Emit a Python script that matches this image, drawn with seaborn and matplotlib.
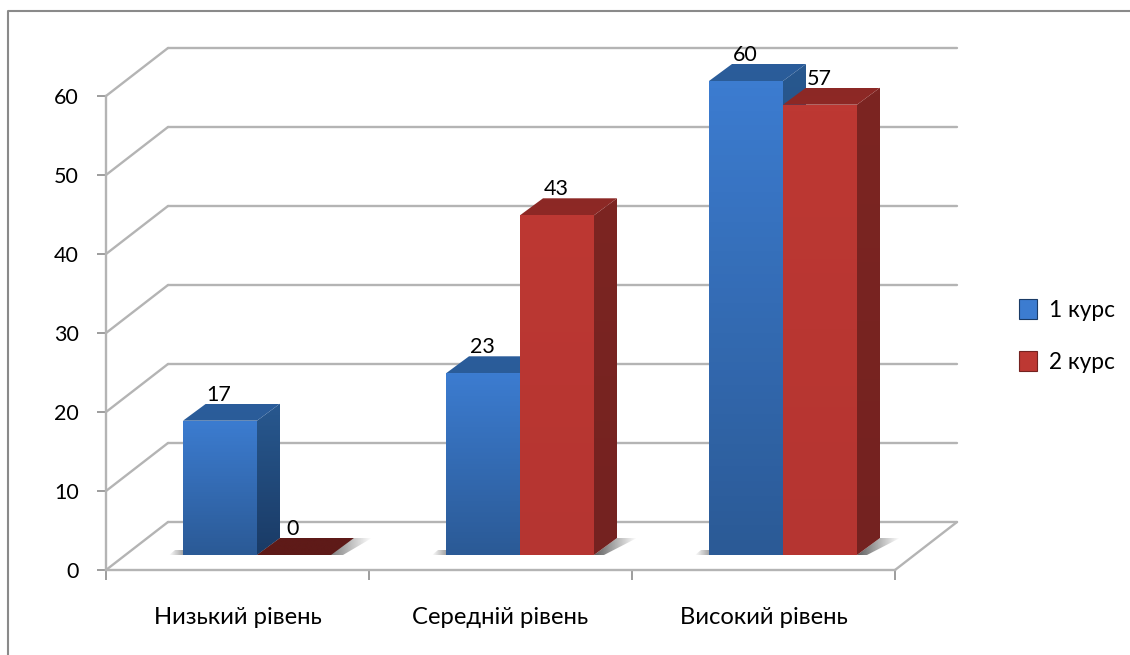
import numpy as np
import pandas as pd
import matplotlib
matplotlib.use("Agg")
import matplotlib.pyplot as plt
import seaborn as sns
from matplotlib.colors import to_rgb
from matplotlib.lines import Line2D
from matplotlib.patches import Patch, Polygon
from matplotlib.transforms import IdentityTransform, ScaledTranslation

levels = ["Низький рівень", "Середній рівень", "Високий рівень"]
course_names = ["1 курс", "2 курс"]
course1 = [17, 23, 60]
course2 = [0, 43, 57]
y_ticks = [0, 10, 20, 30, 40, 50, 60]

W, H = 1130, 655
GREY = "#b4b4b4"
FONT_SIZE = 15.5
FRONT = {"1 курс": ("#3c7cd0", "#2b5a96"), "2 курс": ("#bd3833", "#b53531")}
SIDE = {"1 курс": ("#28588f", "#1a3b66"), "2 курс": ("#7c2522", "#742220")}
TOP = {"1 курс": ("#2b5d9b", "#2a5c99"), "2 курс": ("#8c2825", "#8e2926")}
ZERO_TOP = "#5e1a18"

df = pd.DataFrame({
    "level": levels * 2,
    "course": [course_names[0]] * 3 + [course_names[1]] * 3,
    "value": course1 + course2,
})

sns.set_theme(style="white")
plt.rcParams["font.family"] = ["Lato", "Open Sans", "DejaVu Sans"]

fig = plt.figure(figsize=(W / 100, H / 100), dpi=100)
# axes = the front plane of the fake 3d box
ax = fig.add_axes([106 / W, (H - 570) / H, 789 / W, 474 / H])

palette = {c: FRONT[c][0] for c in course_names}
sns.barplot(data=df, x="level", y="value", hue="course", order=levels,
            hue_order=course_names, palette=palette, width=0.5627, gap=0,
            saturation=1, legend=False, ax=ax, zorder=5)
ax.set_xlim(-0.5, 2.5)
ax.set_ylim(0, 60)
ax.set_xlabel("")
ax.set_ylabel("")


def px(value):
    return value / 100


# bars stand a little behind the front plane
shift = ScaledTranslation(px(19.5), px(15), fig.dpi_scale_trans)
bar_tr = ax.transData + shift


def face(verts, c1, c2, z):
    # polygon in pixels, filled with a top to bottom gradient
    verts = np.array(verts)
    poly = Polygon(verts, closed=True, transform=IdentityTransform(), fc="none", ec="none")
    ax.add_patch(poly)
    grad = np.linspace(to_rgb(c1), to_rgb(c2), 64).reshape(64, 1, 3)
    im = ax.imshow(grad, aspect="auto", transform=IdentityTransform(), zorder=z,
                   extent=(verts[:, 0].min(), verts[:, 0].max(), verts[:, 1].min(), verts[:, 1].max()))
    im.set_clip_box(fig.bbox)
    im.set_clip_path(poly)


def shadow(verts, strength, z=2, reverse=False):
    # soft floor shadow, fades out sideways
    verts = np.array(verts)
    poly = Polygon(verts, closed=True, transform=IdentityTransform(), fc="none", ec="none")
    ax.add_patch(poly)
    rgba = np.zeros((1, 64, 4))
    rgba[..., :3] = 0.3
    rgba[..., 3] = np.linspace(strength, 0, 64)
    if reverse:
        rgba = rgba[:, ::-1]
    im = ax.imshow(rgba, aspect="auto", transform=IdentityTransform(), zorder=z,
                   extent=(verts[:, 0].min(), verts[:, 0].max(), verts[:, 1].min(), verts[:, 1].max()))
    im.set_clip_box(fig.bbox)
    im.set_clip_path(poly)


DX, DY = 23, 17
z = 6
for course, container in zip(course_names, ax.containers):
    for bar in container:
        x, w, h = bar.get_x(), bar.get_width(), bar.get_height()
        bar.set_transform(bar_tr)
        (x0, y0), (x1, y1) = bar_tr.transform([(x, 0), (x + w, h)])
        bar.set_visible(False)
        if h == 0:
            shadow([(x1 - 6, y0), (x1 + DX, y0 + DY), (x1 + DX + 18, y0 + DY), (x1 + 12, y0)], 0.8)
            face([(x0, y0), (x1, y0), (x1 + DX, y0 + DY), (x0 + DX, y0 + DY)], ZERO_TOP, ZERO_TOP, z)
        else:
            shadow([(x1, y0), (x1 + DX, y0 + DY), (x1 + DX + 20, y0 + DY), (x1 + 10, y0)], 0.9)
            if course == course_names[0]:
                shadow([(x0 - 14, y0), (x0, y0), (x0, y0 + 5), (x0 - 8, y0 + 5)], 0.5, reverse=True)
            face([(x1, y0), (x1 + DX, y0 + DY), (x1 + DX, y1 + DY), (x1, y1)], *SIDE[course], z)
            face([(x0, y1), (x1, y1), (x1 + DX, y1 + DY), (x0 + DX, y1 + DY)], *TOP[course], z)
            face([(x0, y0), (x1, y0), (x1, y1), (x0, y1)], *FRONT[course], z + 1)
        ax.text(x0 + (x1 - x0) / 2 - 1, y1 + 26, str(int(h)),
                transform=IdentityTransform(), ha="center", va="center",
                fontsize=FONT_SIZE, color="black", zorder=20)
    z += 2

ax.set_xlim(-0.5, 2.5)
ax.set_ylim(0, 60)

# back wall, floor and the slanted lines
wall = ScaledTranslation(px(62), px(48), fig.dpi_scale_trans)
wall_tr = ax.transData + wall
for v in y_ticks:
    ax.plot([-0.5, 2.5], [v, v], transform=wall_tr, color=GREY, lw=1.7, zorder=1, clip_on=False)
    a = ax.transData.transform((-0.5, v))
    ax.add_line(Line2D([a[0], a[0] + 62], [a[1], a[1] + 48], transform=IdentityTransform(),
                       color=GREY, lw=1.7, zorder=1, clip_on=False))
a = ax.transData.transform((2.5, 0))
ax.add_line(Line2D([a[0], a[0] + 62], [a[1], a[1] + 48], transform=IdentityTransform(),
                   color=GREY, lw=1.7, zorder=1, clip_on=False))

for side in ["top", "right"]:
    ax.spines[side].set_visible(False)
for side in ["left", "bottom"]:
    ax.spines[side].set_color(GREY)
    ax.spines[side].set_linewidth(1.7)
    ax.spines[side].set_zorder(3)

ax.set_yticks(y_ticks)
ax.set_xticks([0, 1, 2])
ax.set_xticklabels(levels)
ax.set_xticks([-0.5, 0.5, 1.5, 2.5], minor=True)
ax.tick_params(axis="y", left=True, length=6.5, width=1.2, color="#8c8c8c", pad=13,
               labelsize=FONT_SIZE, labelcolor="black")
ax.tick_params(axis="x", which="major", bottom=False, length=0, pad=27,
               labelsize=17.2, labelcolor="black")
ax.tick_params(axis="x", which="minor", bottom=True, length=7, width=1.2, color="#8c8c8c")

# outer chart frame, open at right and bottom
fig.add_artist(Line2D([8 / W, 8 / W, 1], [0, (H - 11) / H, (H - 11) / H],
                      color="#8a8a8a", lw=1.5))

handles = [Patch(fc=FRONT[c][0], ec=SIDE[c][1], lw=0.8, label=c) for c in course_names]
fig.legend(handles=handles, loc="center left", bbox_to_anchor=(999 / W, (H - 336) / H),
           frameon=False, fontsize=16.3, handlelength=0.78, handleheight=0.95,
           handletextpad=0.55, labelspacing=1.35, labelcolor="black", borderpad=0.4)

fig.savefig("out.png", dpi=100)
